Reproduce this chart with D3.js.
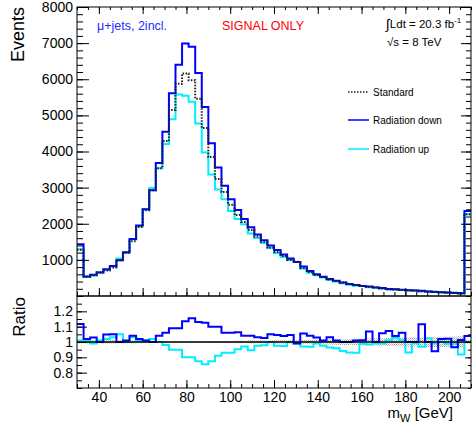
<!DOCTYPE html>
<html>
<head>
<meta charset="utf-8">
<script src="https://cdn.jsdelivr.net/npm/d3@7"></script>
<style>
  body { margin: 0; background: #fff; }
  svg { display: block; font-family: "Liberation Sans", Arial, sans-serif; }
</style>
</head>
<body>
<div id="chart"></div>
<script>
'use strict';

// m_W bins, 3 GeV wide, 30 -> 210 GeV
var binEdges = d3.range(30, 211, 3);

var standard = [1280, 530, 573, 650, 705, 790, 990, 1198, 1519, 1912, 2376, 2930, 3538, 4292, 5147,
  5872, 6159, 5974, 5460, 4649, 3845, 3236, 2877, 2528, 2239, 2048, 1827, 1650, 1502, 1333,
  1215, 1106, 995, 949, 777, 663, 583, 525, 456, 416, 375, 335, 302, 277, 248,
  235, 208, 182, 178, 165, 160, 150, 130, 125, 117, 103, 93, 88, 74, 2260];

var radDown = [1430, 540, 590, 650, 740, 830, 990, 1210, 1580, 1950, 2400, 2930, 3680, 4550, 5610,
  6400, 6990, 6900, 6170, 5230, 4230, 3560, 3050, 2680, 2380, 2130, 1900, 1700, 1540, 1400,
  1270, 1150, 1040, 940, 820, 690, 600, 530, 470, 420, 375, 335, 305, 280, 265,
  235, 220, 195, 185, 175, 160, 150, 145, 125, 110, 105, 95, 85, 75, 2350];

var radUp = [1293, 535, 567, 657, 719, 814, 1040, 1198, 1565, 1931, 2400, 2989, 3538, 4206, 4890,
  5578, 5543, 5377, 4778, 3975, 3364, 2945, 2676, 2351, 2134, 1987, 1728, 1609, 1469, 1333,
  1185, 1078, 995, 940, 754, 643, 577, 512, 440, 399, 353, 312, 281, 274, 244,
  233, 206, 184, 183, 167, 149, 149, 126, 128, 116, 103, 92, 87, 68, 2260];

// half width of the stat. band on the ratio
var bandErr = [0.012, 0.012, 0.012, 0.012, 0.011, 0.011, 0.01, 0.01, 0.009, 0.008, 0.008, 0.007,
  0.006, 0.006, 0.005, 0.005, 0.005, 0.005, 0.005, 0.005, 0.006, 0.006, 0.007, 0.007, 0.008,
  0.008, 0.009, 0.009, 0.01, 0.01, 0.011, 0.011, 0.012, 0.012, 0.013, 0.014, 0.015, 0.016,
  0.017, 0.018, 0.019, 0.02, 0.021, 0.022, 0.023, 0.024, 0.025, 0.026, 0.027, 0.028, 0.029,
  0.03, 0.031, 0.032, 0.033, 0.034, 0.035, 0.036, 0.038, 0.012];

var yTicksTop = [1000, 2000, 3000, 4000, 5000, 6000, 7000, 8000];
var yTicksRatio = [0.8, 0.9, 1, 1.1, 1.2];
var xTicks = [40, 60, 80, 100, 120, 140, 160, 180, 200];

var width = 472, height = 430;
var left = 77, right = 471,
    topY0 = 7, topY1 = 296,
    ratY0 = 296, ratY1 = 388;

var svg = d3.select('#chart').append('svg')
  .attr('width', width)
  .attr('height', height);

var x = d3.scaleLinear().domain([30, 210]).range([left, right]);
var yTop = d3.scaleLinear().domain([0, 8000]).range([topY1, topY0]);
var yRat = d3.scaleLinear().domain([0.7, 1.3]).range([ratY1, ratY0]);

var defs = svg.append('defs');
defs.append('clipPath').attr('id', 'clipTop').append('rect')
  .attr('x', left).attr('y', topY0).attr('width', right - left).attr('height', topY1 - topY0);
defs.append('clipPath').attr('id', 'clipRat').append('rect')
  .attr('x', left).attr('y', ratY0).attr('width', right - left).attr('height', ratY1 - ratY0);
var pat = defs.append('pattern').attr('id', 'hatch')
  .attr('width', 2).attr('height', 2).attr('patternUnits', 'userSpaceOnUse');
pat.append('rect').attr('width', 1).attr('height', 1).attr('fill', '#888');
pat.append('rect').attr('x', 1).attr('y', 1).attr('width', 1).attr('height', 1).attr('fill', '#bbb');

function stepPts(vals) {
  var pts = vals.map(function (v, i) { return [binEdges[i], v]; });
  pts.push([binEdges[vals.length], vals[vals.length - 1]]);
  return pts;
}

var lineTop = d3.line()
  .x(function (d) { return x(d[0]); })
  .y(function (d) { return yTop(d[1]); })
  .curve(d3.curveStepAfter);

var lineRat = d3.line()
  .x(function (d) { return x(d[0]); })
  .y(function (d) { return yRat(d[1]); })
  .curve(d3.curveStepAfter);

var blue = '#0000ff', cyan = '#00eeff';

// ---- top pad ----
var gTop = svg.append('g').attr('clip-path', 'url(#clipTop)');

gTop.append('path').attr('d', lineTop(stepPts(radUp)))
  .attr('fill', 'none').attr('stroke', cyan).attr('stroke-width', 2);
gTop.append('path').attr('d', lineTop(stepPts(radDown)))
  .attr('fill', 'none').attr('stroke', blue).attr('stroke-width', 2);
gTop.append('path').attr('d', lineTop(stepPts(standard)))
  .attr('fill', 'none').attr('stroke', '#222').attr('stroke-width', 2)
  .attr('stroke-dasharray', '1.5,1.5');

// ---- ratio pad ----
var rDown = radDown.map(function (v, i) { return v / standard[i]; });
var rUp = radUp.map(function (v, i) { return v / standard[i]; });

var gRat = svg.append('g').attr('clip-path', 'url(#clipRat)');

var bandPts = bandErr.map(function (e, i) { return [binEdges[i], e]; });
bandPts.push([binEdges[bandErr.length], bandErr[bandErr.length - 1]]);
gRat.append('path')
  .attr('d', d3.area()
    .x(function (d) { return x(d[0]); })
    .y0(function (d) { return yRat(1 - d[1]); })
    .y1(function (d) { return yRat(1 + d[1]); })
    .curve(d3.curveStepAfter)(bandPts))
  .attr('fill', 'url(#hatch)').attr('opacity', 0.8);

gRat.append('path').attr('d', lineRat(stepPts(rUp)))
  .attr('fill', 'none').attr('stroke', cyan).attr('stroke-width', 2);
gRat.append('path').attr('d', lineRat(stepPts(rDown)))
  .attr('fill', 'none').attr('stroke', blue).attr('stroke-width', 2);
gRat.append('line')
  .attr('x1', left).attr('x2', right)
  .attr('y1', yRat(1)).attr('y2', yRat(1))
  .attr('stroke', '#000').attr('stroke-width', 1.5);

// ---- axes (ROOT style, ticks inside) ----
function styleAxis(g) {
  g.select('.domain').remove();
  g.selectAll('line').attr('stroke', '#000');
  g.selectAll('text').attr('font-size', 14).attr('fill', '#000')
    .attr('font-family', '"Liberation Sans", Arial, sans-serif');
}

var minorTop = d3.range(0, 8001, 200);
var minorX = d3.range(30, 211, 5);
var minorRat = d3.range(0.7, 1.3001, 0.05);

// top pad y left
svg.append('g').attr('transform', 'translate(' + left + ',0)')
  .call(d3.axisLeft(yTop).tickValues(minorTop).tickSize(-6).tickFormat(''))
  .call(styleAxis);
svg.append('g').attr('transform', 'translate(' + left + ',0)')
  .call(d3.axisLeft(yTop).tickValues(yTicksTop).tickSize(-12).tickPadding(4)
    .tickFormat(d3.format('d')))
  .call(styleAxis);
// top pad y right
svg.append('g').attr('transform', 'translate(' + right + ',0)')
  .call(d3.axisRight(yTop).tickValues(minorTop).tickSize(-5).tickFormat(''))
  .call(styleAxis);
svg.append('g').attr('transform', 'translate(' + right + ',0)')
  .call(d3.axisRight(yTop).tickValues(yTicksTop).tickSize(-10).tickFormat(''))
  .call(styleAxis);
// top pad x top / bottom
svg.append('g').attr('transform', 'translate(0,' + topY0 + ')')
  .call(d3.axisTop(x).tickValues(minorX).tickSize(-3).tickFormat(''))
  .call(styleAxis);
svg.append('g').attr('transform', 'translate(0,' + topY0 + ')')
  .call(d3.axisTop(x).tickValues(xTicks).tickSize(-7).tickFormat(''))
  .call(styleAxis);
svg.append('g').attr('transform', 'translate(0,' + topY1 + ')')
  .call(d3.axisBottom(x).tickValues(minorX).tickSize(-4).tickFormat(''))
  .call(styleAxis);
svg.append('g').attr('transform', 'translate(0,' + topY1 + ')')
  .call(d3.axisBottom(x).tickValues(xTicks).tickSize(-8).tickFormat(''))
  .call(styleAxis);

// ratio pad y
svg.append('g').attr('transform', 'translate(' + left + ',0)')
  .call(d3.axisLeft(yRat).tickValues(minorRat).tickSize(-5).tickFormat(''))
  .call(styleAxis);
svg.append('g').attr('transform', 'translate(' + left + ',0)')
  .call(d3.axisLeft(yRat).tickValues(yTicksRatio).tickSize(-10).tickPadding(4)
    .tickFormat(function (d) { return d === 1 ? '1' : d.toFixed(1); }))
  .call(styleAxis);
svg.append('g').attr('transform', 'translate(' + right + ',0)')
  .call(d3.axisRight(yRat).tickValues(minorRat).tickSize(-3).tickFormat(''))
  .call(styleAxis);
svg.append('g').attr('transform', 'translate(' + right + ',0)')
  .call(d3.axisRight(yRat).tickValues(yTicksRatio).tickSize(-6).tickFormat(''))
  .call(styleAxis);
// ratio pad x
svg.append('g').attr('transform', 'translate(0,' + ratY1 + ')')
  .call(d3.axisBottom(x).tickValues(minorX).tickSize(-4).tickFormat(''))
  .call(styleAxis);
svg.append('g').attr('transform', 'translate(0,' + ratY1 + ')')
  .call(d3.axisBottom(x).tickValues(xTicks).tickSize(-8).tickPadding(2)
    .tickFormat(d3.format('d')))
  .call(styleAxis)
  .selectAll('text').attr('dy', '0.71em').attr('y', 4);

// frames
svg.append('rect').attr('x', left).attr('y', topY0)
  .attr('width', right - left).attr('height', topY1 - topY0)
  .attr('fill', 'none').attr('stroke', '#000');
svg.append('rect').attr('x', left).attr('y', ratY0)
  .attr('width', right - left).attr('height', ratY1 - ratY0)
  .attr('fill', 'none').attr('stroke', '#000');

// axis titles
svg.append('text')
  .attr('transform', 'translate(24,7) rotate(-90)')
  .attr('text-anchor', 'end')
  .attr('font-size', 18)
  .text('Events');
svg.append('text')
  .attr('transform', 'translate(25,297) rotate(-90)')
  .attr('text-anchor', 'end')
  .attr('font-size', 17)
  .text('Ratio');

var xt = svg.append('text')
  .attr('x', 453).attr('y', 418)
  .attr('text-anchor', 'end')
  .attr('font-size', 15);
xt.append('tspan').text('m');
xt.append('tspan').attr('font-size', 11).attr('dy', 4).text('W');
xt.append('tspan').attr('dy', -4).text(' [GeV]');

// labels
svg.append('text').attr('x', 97).attr('y', 30)
  .attr('font-size', 12.5).attr('fill', '#2a2aff')
  .text('\u03bc+jets, 2incl.');
svg.append('text').attr('x', 222).attr('y', 30)
  .attr('font-size', 12.5).attr('fill', '#ff0000')
  .text('SIGNAL ONLY');

var lumi = svg.append('text').attr('x', 386).attr('y', 28).attr('font-size', 11.5);
lumi.append('tspan').attr('font-size', 14).attr('dy', 1).text('\u222b');
lumi.append('tspan').attr('dy', -1).text('Ldt = 20.3 fb');
lumi.append('tspan').attr('font-size', 8).attr('dy', -5).text('-1');

var rs = svg.append('text').attr('x', 387).attr('y', 46).attr('font-size', 11.5);
rs.append('tspan').text('\u221as = 8 TeV');

// legend
var legend = [
  { name: 'Standard', color: '#222', dash: '1.5,1.5', y: 92 },
  { name: 'Radiation down', color: blue, dash: null, y: 120 },
  { name: 'Radiation up', color: cyan, dash: null, y: 149 }
];
var lg = svg.append('g').selectAll('g').data(legend).enter().append('g');
lg.append('line')
  .attr('x1', 348).attr('x2', 369)
  .attr('y1', function (d) { return d.y; }).attr('y2', function (d) { return d.y; })
  .attr('stroke', function (d) { return d.color; })
  .attr('stroke-width', 1.5)
  .attr('stroke-dasharray', function (d) { return d.dash; });
lg.append('text')
  .attr('x', 373).attr('y', function (d) { return d.y + 3.5; })
  .attr('font-size', 10)
  .text(function (d) { return d.name; });
</script>
</body>
</html>
